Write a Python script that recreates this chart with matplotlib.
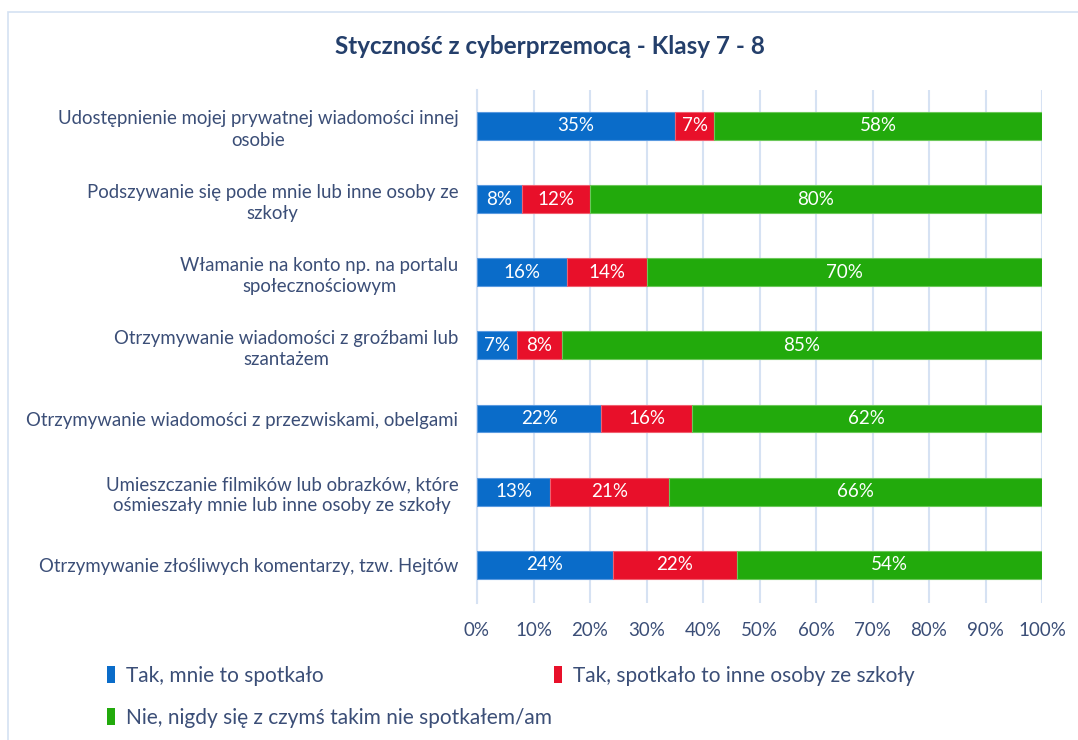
import matplotlib.pyplot as plt
from matplotlib.patches import Rectangle, Patch
import numpy as np

plt.rcParams['font.family'] = ['Lato', 'DejaVu Sans']

# categories from top to bottom
categories = [
    "Udostępnienie mojej prywatnej wiadomości innej\nosobie",
    "Podszywanie się pode mnie lub inne osoby ze\nszkoły",
    "Włamanie na konto np. na portalu\nspołecznościowym",
    "Otrzymywanie wiadomości z groźbami lub\nszantażem",
    "Otrzymywanie wiadomości z przezwiskami, obelgami",
    "Umieszczanie filmików lub obrazków, które\nośmieszały mnie lub inne osoby ze szkoły",
    "Otrzymywanie złośliwych komentarzy, tzw. Hejtów",
]
tak_mnie = [35, 8, 16, 7, 22, 13, 24]
tak_inni = [7, 12, 14, 8, 16, 21, 22]
nie = [58, 80, 70, 85, 62, 66, 54]

series_names = ["Tak, mnie to spotkało",
                "Tak, spotkało to inne osoby ze szkoły",
                "Nie, nigdy się z czymś takim nie spotkałem/am"]
colors = ["#0a6cc9", "#e8102a", "#22aa0c"]
edges = ["#5a9ae0", "#f06070", "#6cc85a"]

text_col = "#3b4e77"
grid_col = "#d6e2f3"

fig = plt.figure(figsize=(10.78, 7.4), dpi=100)
W, H = 1078, 740
ax = fig.add_axes([477 / W, 1 - 603 / H, (1042 - 477) / W, (603 - 90) / H])

y = np.arange(len(categories))
left = np.zeros(len(categories))
for vals, c, ec, name in zip([tak_mnie, tak_inni, nie], colors, edges, series_names):
    vals = np.array(vals, dtype=float)
    bars = ax.barh(y, vals / 100, left=left / 100, height=0.38, color=c,
                   edgecolor=ec, linewidth=0.8, label=name, zorder=3)
    for b, v in zip(bars, vals):
        ax.text(b.get_x() + b.get_width() / 2, b.get_y() + b.get_height() / 2,
                f"{int(v)}%", ha='center', va='center', color='white',
                fontsize=13.5, zorder=4)
    left += vals

ax.set_ylim(len(categories) - 0.48, -0.49)
ax.set_xlim(0, 1)
ax.set_xticks(np.linspace(0, 1, 11))
ax.set_xticklabels([f"{i}%" for i in range(0, 101, 10)], color=text_col, fontsize=13.5)
ax.set_yticks(y)
ax.set_yticklabels(categories, color=text_col, fontsize=13.4, multialignment='center',
                   linespacing=1.3)
ax.tick_params(axis='both', length=0)
ax.tick_params(axis='x', pad=14)
ax.tick_params(axis='y', pad=13.5)
ax.grid(axis='x', color=grid_col, linewidth=1.5, zorder=0)
for s in ['top', 'right', 'bottom']:
    ax.spines[s].set_visible(False)
ax.spines['left'].set_color(grid_col)
ax.spines['left'].set_linewidth(1.5)

fig.text(550 / W, 1 - 47 / H, "Styczność z cyberprzemocą - Klasy 7 - 8",
         ha='center', va='center', fontsize=17.5, fontweight='bold', color='#243f6b')

# outer chart border
fig.patches.append(Rectangle((8 / W, -0.02), 1.1, 1 - 12 / H + 0.02,
                             transform=fig.transFigure, fill=False,
                             edgecolor='#d4e1f2', linewidth=1.2))

handles = [Patch(facecolor=colors[0]), Patch(facecolor=colors[2]), Patch(facecolor=colors[1])]
labels = [series_names[0], series_names[2], series_names[1]]
fig.legend(handles, labels, ncol=2, loc='upper left', bbox_to_anchor=(107 / W, 1 - 666 / H),
           frameon=False, fontsize=15, labelcolor=text_col, handlelength=0.4,
           handleheight=0.9, handletextpad=0.5, columnspacing=0.1, labelspacing=1.05,
           borderaxespad=0, borderpad=0)

fig.savefig("out.png", dpi=100)
